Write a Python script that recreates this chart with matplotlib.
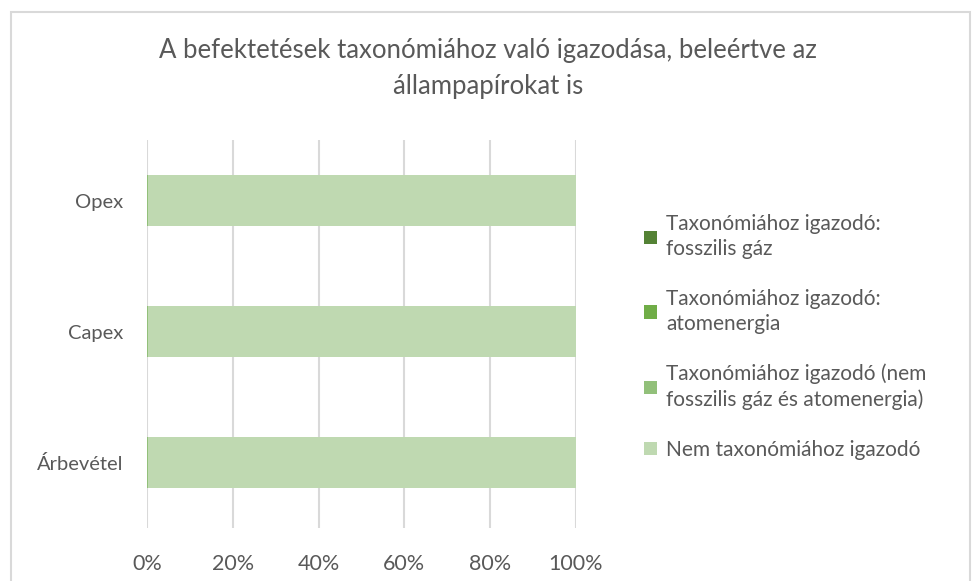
import numpy as np
import matplotlib.pyplot as plt
from matplotlib.patches import Rectangle

plt.rcParams['font.family'] = ['Lato', 'DejaVu Sans']

# adatok
categories = ['Árbevétel', 'Capex', 'Opex']
series_names = ['Taxonómiához igazodó:\nfosszilis gáz',
                'Taxonómiához igazodó:\natomenergia',
                'Taxonómiához igazodó (nem\nfosszilis gáz és atomenergia)',
                'Nem taxonómiához igazodó']
fossil_gas = [0.0, 0.0, 0.0]
nuclear = [0.0, 0.0, 0.0]
aligned_other = [0.3, 0.3, 0.3]
not_aligned = [99.7, 99.7, 99.7]
xticks = [0, 20, 40, 60, 80, 100]

colors = ['#548235', '#70AD47', '#92C07A', '#BFD9B1']
text_col = '#595959'

fig = plt.figure(figsize=(9.72, 5.81), dpi=100)
ax = fig.add_axes([0.1512, 0.0912, 0.4414, 0.6678])

# keret a diagram körül
fig.patches.append(Rectangle((11 / 972, -0.05), 959 / 972, 1 - 12 / 581 + 0.05,
                             transform=fig.transFigure, fill=False,
                             edgecolor='#D9D9D9', linewidth=1.5))

y = np.arange(len(categories))
left = np.zeros(len(categories))
for vals, col, name in zip([fossil_gas, nuclear, aligned_other, not_aligned], colors, series_names):
    ax.barh(y, vals, left=left, height=0.39, color=col, label=name, zorder=3)
    left += np.array(vals)

ax.set_xlim(0, 100)
ax.set_ylim(-0.5, 2.462)
ax.set_xticks(xticks)
ax.set_xticklabels([f'{v}%' for v in xticks])
ax.set_yticks(y)
ax.set_yticklabels(categories)
ax.tick_params(axis='both', length=0, labelcolor=text_col)
ax.tick_params(axis='x', pad=19, labelsize=15.5)
ax.tick_params(axis='y', pad=17, labelsize=14.5)
ax.grid(axis='x', color='#D9D9D9', linewidth=1.5, zorder=0)
for s in ax.spines.values():
    s.set_visible(False)

fig.text(0.502, 0.882, 'A befektetések taxonómiához való igazodása, beleértve az\nállampapírokat is',
         ha='center', va='center', fontsize=18.5, color=text_col, linespacing=1.55)

handles, labels = ax.get_legend_handles_labels()
leg = fig.legend(handles, labels, loc='upper left', bbox_to_anchor=(0.663, 0.632),
                 frameon=False, fontsize=15, labelcolor=text_col,
                 handlelength=0.6, handleheight=0.6, handletextpad=0.45,
                 labelspacing=1.4, borderaxespad=0, borderpad=0)
for t in leg.get_texts():
    t.set_linespacing(1.35)

fig.savefig('out.png', dpi=100)
